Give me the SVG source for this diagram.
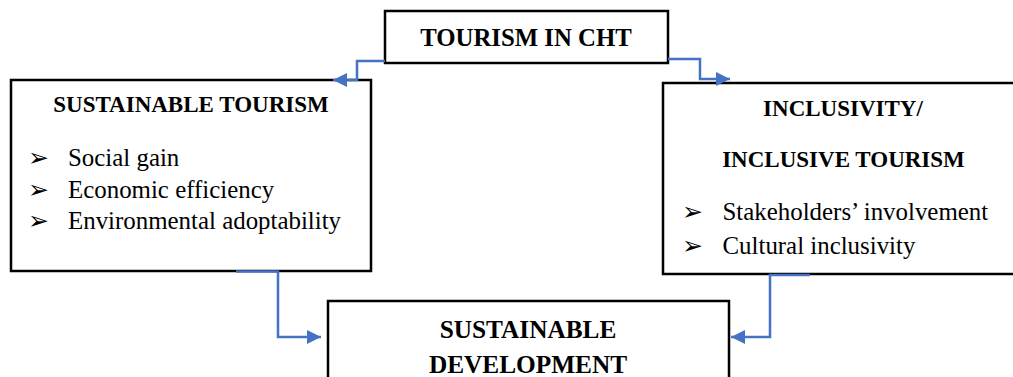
<svg xmlns="http://www.w3.org/2000/svg" width="1013" height="377" viewBox="0 0 1013 377">
<defs>
<style>
.box{fill:#fff;stroke:#000;stroke-width:2.5}
.t{font-family:"Liberation Serif","Times New Roman",serif;fill:#000}
.b{font-weight:bold}
.title{font-size:24.8px}
.sub{font-size:23px}
.dev{font-size:25.3px}
.body{font-size:24.9px}
.bul{font-family:"DejaVu Sans",sans-serif;font-size:25px;fill:#000}
.conn{fill:none;stroke:#4472C4;stroke-width:2.5}
</style>
<marker id="ah" viewBox="0 0 10 10" refX="10" refY="5" markerUnits="userSpaceOnUse" markerWidth="14" markerHeight="14" orient="auto">
<path d="M0,0 L10,5 L0,10 z" fill="#4472C4"/>
</marker>
</defs>
<rect width="1013" height="377" fill="#fff"/>
<g id="node-tourism">
<rect class="box" x="385" y="11" width="283" height="52"/>
<text class="t b title" x="526" y="46" text-anchor="middle">TOURISM IN CHT</text>
</g>
<g id="node-sustainable-tourism">
<rect class="box" x="11" y="80" width="360" height="191"/>
<text class="t b sub" x="191" y="112" text-anchor="middle">SUSTAINABLE TOURISM</text>
<text class="bul" x="28" y="166">➢</text>
<text class="t body" x="68" y="166">Social gain</text>
<text class="bul" x="28" y="197.5">➢</text>
<text class="t body" x="68" y="197.5">Economic efficiency</text>
<text class="bul" x="28" y="229">➢</text>
<text class="t body" x="68" y="229">Environmental adoptability</text>
</g>
<g id="node-inclusive-tourism">
<rect class="box" x="663" y="83" width="360" height="191"/>
<text class="t b sub" x="843" y="115.5" text-anchor="middle">INCLUSIVITY/</text>
<text class="t b sub" x="843.5" y="167" text-anchor="middle">INCLUSIVE TOURISM</text>
<text class="bul" x="682" y="220">➢</text>
<text class="t body" x="722.5" y="220">Stakeholders’ involvement</text>
<text class="bul" x="682" y="254">➢</text>
<text class="t body" x="722.5" y="254">Cultural inclusivity</text>
</g>
<g id="node-sustainable-development">
<rect class="box" x="328" y="301" width="401" height="90"/>
<text class="t b dev" x="528" y="338" text-anchor="middle">SUSTAINABLE</text>
<text class="t b dev" x="528" y="372.5" text-anchor="middle">DEVELOPMENT</text>
</g>
<g id="connectors">
<path class="conn" d="M385,61 H357 V80 H333" marker-end="url(#ah)"/>
<path class="conn" d="M668,59 H700 V79 H730" marker-end="url(#ah)"/>
<path class="conn" d="M236,271.5 H278 V337 H321" marker-end="url(#ah)"/>
<path class="conn" d="M810,275 H770 V337 H731" marker-end="url(#ah)"/>
</g>
</svg>
